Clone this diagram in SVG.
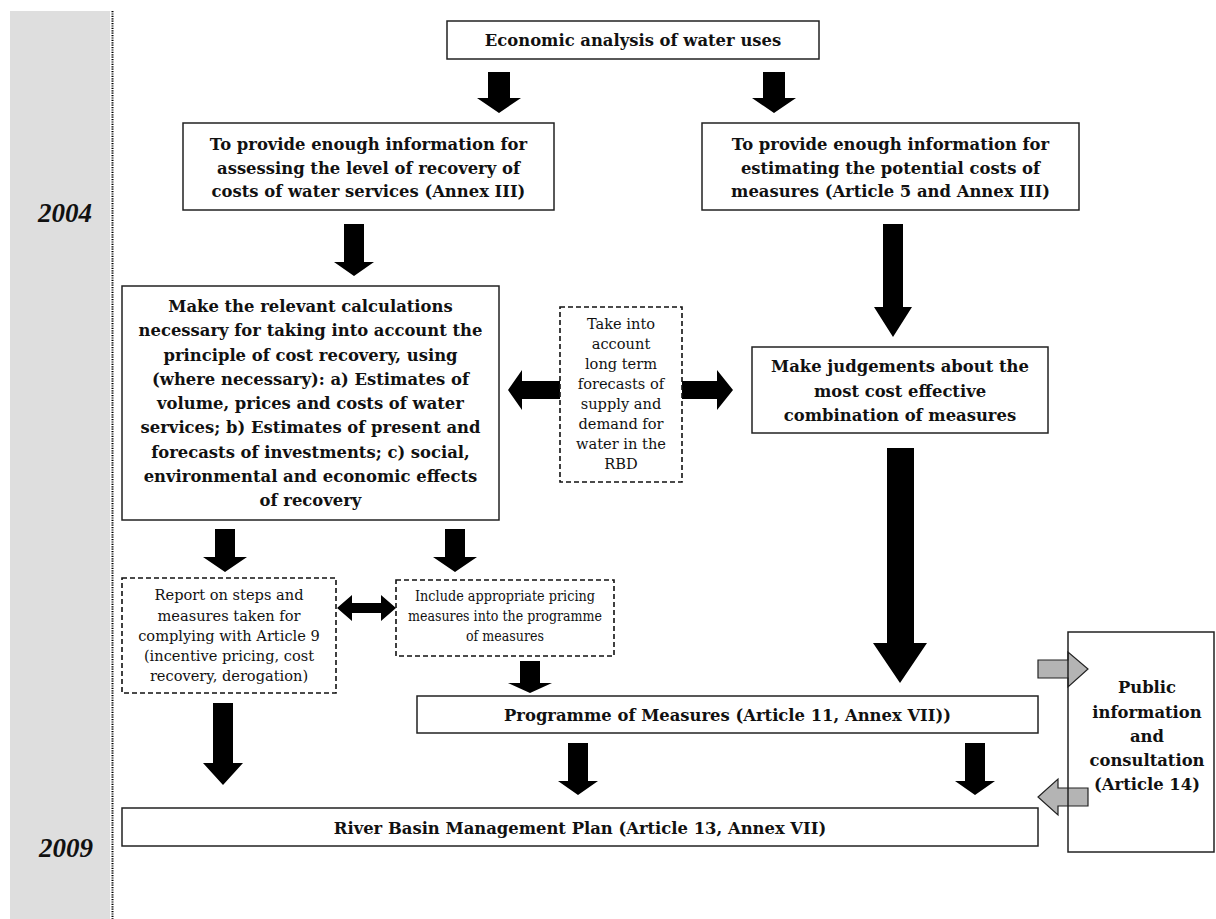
<svg xmlns="http://www.w3.org/2000/svg" width="1216" height="919" viewBox="0 0 1216 919">
<style>
.box{fill:#fff;stroke:#222;stroke-width:1.5}
.dash{fill:#fff;stroke:#111;stroke-width:1.6;stroke-dasharray:5,3}
.b{font-family:"DejaVu Serif","Liberation Serif",serif;font-weight:bold;font-size:16.4px;fill:#111;text-anchor:middle}
.r{font-family:"DejaVu Serif","Liberation Serif",serif;font-size:14.6px;fill:#111;text-anchor:middle}
.yr{font-family:"Liberation Serif",serif;font-weight:bold;font-style:italic;font-size:27px;fill:#111;text-anchor:middle}
.ar{fill:#000;stroke:none}
.ga{fill:#b4b4b4;stroke:#222;stroke-width:1.2}
</style>
<g id="timeline">
<rect x="10" y="11" width="100" height="908" fill="#dedede"/>
<line x1="112.5" y1="11" x2="112.5" y2="919" stroke="#000" stroke-width="2" stroke-dasharray="1.2,1.2"/>
<text class="yr" x="65" y="222">2004</text>
<text class="yr" x="66" y="857">2009</text>
</g>
<g id="connectors">
<path class="ar" d="M488,72H510V98H521L499,113L477,98H488Z"/>
<path class="ar" d="M763,72H785V98H796L774,113L752,98H763Z"/>
<path class="ar" d="M344,224H364V262H374L354,276L334,262H344Z"/>
<path class="ar" d="M883,224H903V307H912L893,337L874,307H883Z"/>
<path class="ar" d="M887,448H914V643H927L900,683L873,643H887Z"/>
<path class="ar" d="M560,381V399H522V410L508,390L522,370V381Z"/>
<path class="ar" d="M682,381V399H717V410L733,390L717,370V381Z"/>
<path class="ar" d="M215,529H235V557H247L225,572L203,557H215Z"/>
<path class="ar" d="M445,529H465V557H477L455,572L433,557H445Z"/>
<path class="ar" d="M337,608L352,595V603H381V595L396,608L381,621V613H352V621Z"/>
<path class="ar" d="M520,661H540V683H552L530,693L508,683H520Z"/>
<path class="ar" d="M213,703H233V763H243L223,785L203,763H213Z"/>
<path class="ar" d="M568,743H588V781H598L578,795L558,781H568Z"/>
<path class="ar" d="M965,743H985V781H995L975,795L955,781H965Z"/>
<path class="ga" d="M1038,660H1068V652L1088,669L1068,687V678H1038Z"/>
<path class="ga" d="M1088,788V806H1058V815L1038,797L1058,779V788Z"/>
</g>
<g id="n-economic">
<rect class="box" x="447" y="21" width="372" height="38"/>
<text class="b" x="633" y="46">Economic analysis of water uses</text>
</g>
<g id="n-recovery-info">
<rect class="box" x="183" y="123" width="371" height="87"/>
<text class="b" x="368.5" y="150">To provide enough information for</text>
<text class="b" x="368.5" y="173.5">assessing the level of recovery of</text>
<text class="b" x="368.5" y="197">costs of water services (Annex III)</text>
</g>
<g id="n-costs-info">
<rect class="box" x="702" y="123" width="377" height="87"/>
<text class="b" x="890.5" y="150">To provide enough information for</text>
<text class="b" x="890.5" y="173.5">estimating the potential costs of</text>
<text class="b" x="890.5" y="197">measures (Article 5 and Annex III)</text>
</g>
<g id="n-calculations">
<rect class="box" x="122" y="286" width="377" height="234"/>
<text class="b" x="310.5" y="312">Make the relevant calculations</text>
<text class="b" x="310.5" y="336.25">necessary for taking into account the</text>
<text class="b" x="310.5" y="360.5">principle of cost recovery, using</text>
<text class="b" x="310.5" y="384.75">(where necessary): a) Estimates of</text>
<text class="b" x="310.5" y="409">volume, prices and costs of water</text>
<text class="b" x="310.5" y="433.25">services; b) Estimates of present and</text>
<text class="b" x="310.5" y="457.5">forecasts of investments; c) social,</text>
<text class="b" x="310.5" y="481.75">environmental and economic effects</text>
<text class="b" x="310.5" y="506">of recovery</text>
</g>
<g id="n-forecasts">
<rect class="dash" x="560" y="307" width="122" height="175"/>
<text class="r" x="621" y="329">Take into</text>
<text class="r" x="621" y="349">account</text>
<text class="r" x="621" y="369">long term</text>
<text class="r" x="621" y="389">forecasts of</text>
<text class="r" x="621" y="409">supply and</text>
<text class="r" x="621" y="429">demand for</text>
<text class="r" x="621" y="449">water in the</text>
<text class="r" x="621" y="469">RBD</text>
</g>
<g id="n-judgements">
<rect class="box" x="752" y="347" width="296" height="86"/>
<text class="b" x="900" y="372">Make judgements about the</text>
<text class="b" x="900" y="396.5">most cost effective</text>
<text class="b" x="900" y="421">combination of measures</text>
</g>
<g id="n-report">
<rect class="dash" x="122" y="578" width="214" height="115"/>
<text class="r" x="229" y="600">Report on steps and</text>
<text class="r" x="229" y="620.5">measures taken for</text>
<text class="r" x="229" y="641">complying with Article 9</text>
<text class="r" x="229" y="661">(incentive pricing, cost</text>
<text class="r" x="229" y="681">recovery, derogation)</text>
</g>
<g id="n-include">
<rect class="dash" x="396" y="580" width="218" height="76"/>
<text class="r" x="505" y="601" textLength="180" lengthAdjust="spacingAndGlyphs">Include appropriate pricing</text>
<text class="r" x="505" y="621" textLength="194" lengthAdjust="spacingAndGlyphs">measures into the programme</text>
<text class="r" x="505" y="641" textLength="78" lengthAdjust="spacingAndGlyphs">of measures</text>
</g>
<g id="n-programme">
<rect class="box" x="417" y="696" width="621" height="37"/>
<text class="b" x="727.5" y="721">Programme of Measures (Article 11, Annex VII))</text>
</g>
<g id="n-rbmp">
<rect class="box" x="122" y="808" width="916" height="38"/>
<text class="b" x="580" y="834">River Basin Management Plan (Article 13, Annex VII)</text>
</g>
<g id="n-public">
<rect x="1068" y="632" width="146" height="220" fill="none" stroke="#222" stroke-width="1.5"/>
<text class="b" x="1147" y="693">Public</text>
<text class="b" x="1147" y="717.5">information</text>
<text class="b" x="1147" y="742">and</text>
<text class="b" x="1147" y="766">consultation</text>
<text class="b" x="1147" y="790">(Article 14)</text>
</g>
</svg>
